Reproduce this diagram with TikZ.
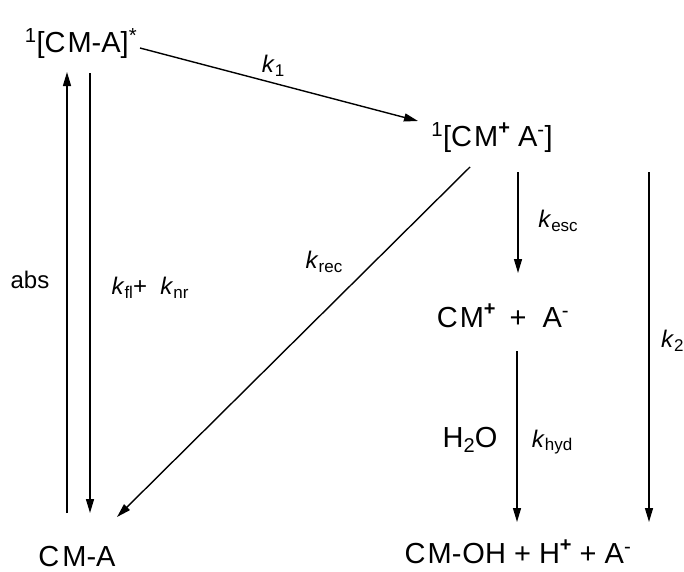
\documentclass[tikz,border=0pt]{standalone}
\usepackage{fontspec}
\setmainfont{Liberation Sans}
\usetikzlibrary{arrows.meta}
\newcommand\rk[1]{\textit{k}\raisebox{-0.3ex}{\fontsize{17}{17}\selectfont #1}}
\newcommand\plussup{\raisebox{0.75ex}{\fontsize{20}{20}\selectfont\textbf{+}}}
\begin{document}
\begin{tikzpicture}[x=1pt,y=-1pt,
  species/.style={inner sep=0pt, anchor=base, font=\fontsize{29}{29}\selectfont},
  rate/.style={inner sep=0pt, font=\fontsize{24}{24}\selectfont},
  conn/.style={line width=1.4pt, -{Triangle[length=14pt,width=8pt]}},
  plain/.style={line width=1.4pt}]
\useasboundingbox (0,0) rectangle (684,571);
% species
\node[species] (top)  at (81,52)  {\textsuperscript{1}[C\kern2pt M-A]\textsuperscript{*}};
\node[species] (ion)  at (492,146) {\textsuperscript{1}[C\kern2pt M\plussup\ A\textsuperscript{-}]};
\node[species] (sep)  at (503,327) {C\kern2pt M\plussup\hspace{14pt}+\hspace{16pt}A\textsuperscript{-}};
\node[species] (cma)  at (77,566) {C\kern3pt M-A};
\node[species] (prod) at (518,563) {C\kern2pt M-\kern1pt OH + H\plussup\ + A\textsuperscript{-}};
% connector end points
\coordinate (absB) at (67,513);  \coordinate (absT) at (67,72);
\coordinate (flT)  at (90,73);   \coordinate (flB)  at (90,513);
\coordinate (k1S)  at (140,48);  \coordinate (k1E)  at (418,121);
\coordinate (recS) at (470,167); \coordinate (recE) at (117,517);
\coordinate (escT) at (518,172); \coordinate (escB) at (518,273);
\coordinate (hydT) at (517,351); \coordinate (hydB) at (517,522);
\coordinate (k2T)  at (649,172); \coordinate (k2B)  at (649,522);
% connectors
\draw[conn] (absB) -- (absT);
\draw[conn] (flT) -- (flB);
\draw[conn] (k1S) -- (k1E);
\draw[conn] (recS) -- (recE);
\draw[conn] (escT) -- (escB);
\draw[conn] (hydT) -- (hydB);
\draw[conn] (k2T) -- (k2B);
% labels
\node[rate] (lk1)  at (273,66)  {\rk{1}};
\node[rate] (lrec) at (324,262) {\rk{rec}};
\node[rate] (labs) at (30,280)  {abs};
\node[rate] (lfl)  at (150,288) {\rk{fl}+\ \ \rk{nr}};
\node[rate] (lesc) at (558,221) {\rk{esc}};
\node[species, anchor=center] (lh2o) at (470,440) {H\raisebox{-0.35ex}{\fontsize{20}{20}\selectfont 2}O};
\node[rate] (lhyd) at (552,442) {\rk{hyd}};
\node[rate, anchor=west] (lk2) at (661,341) {\rk{2}};
\end{tikzpicture}
\end{document}
